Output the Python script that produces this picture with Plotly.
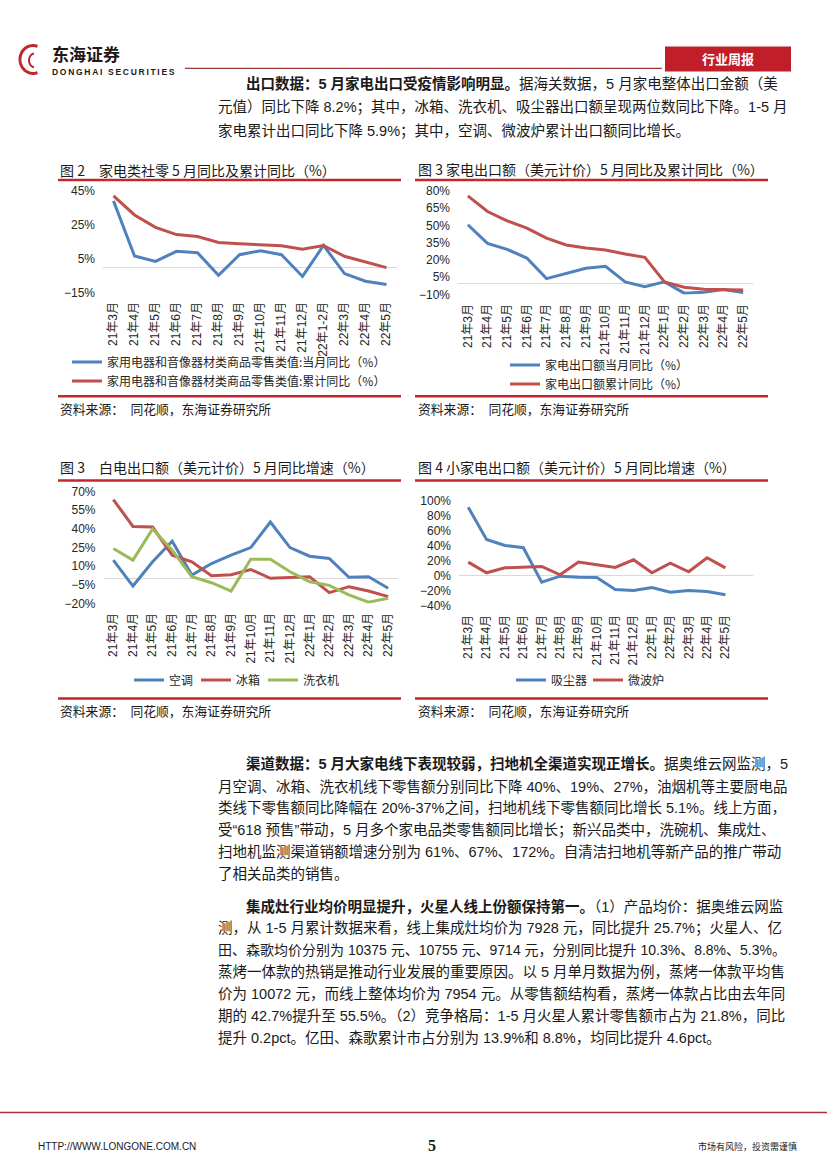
import plotly.graph_objects as go
import numpy as np
import math

W, H = 827, 1170

# ---------------- data ----------------
months_a = ["21年3月", "21年4月", "21年5月", "21年6月", "21年7月", "21年8月", "21年9月",
            "21年10月", "21年11月", "21年12月", "22年1-2月", "22年3月", "22年4月", "22年5月"]
retail_month = [39.1, 6.6, 3.4, 9.3, 8.5, -4.8, 7.3, 9.7, 7.3, -5.5, 12.8, -3.8, -8.3, -10.2]
retail_cum = [42.1, 30.8, 23.5, 19.2, 18.1, 14.6, 13.8, 13.2, 12.6, 10.5, 12.8, 6.4, 3.0, -0.3]

months_b = ["21年3月", "21年4月", "21年5月", "21年6月", "21年7月", "21年8月", "21年9月",
            "21年10月", "21年11月", "21年12月", "22年1月", "22年2月", "22年3月", "22年4月", "22年5月"]
export_month = [50.6, 34.4, 29.2, 21.7, 3.8, 8.5, 12.8, 14.5, 1.0, -3.1, 1.0, -8.8, -8.0, -5.7, -8.3]
export_cum = [75.7, 62.1, 54.0, 47.7, 39.0, 33.0, 30.4, 28.7, 25.2, 22.3, 1.0, -3.7, -5.4, -5.4, -6.0]

ac_export = [14.8, -6.0, 13.5, 30.0, 2.8, 12.1, 18.8, 24.9, 45.4, 24.9, 18.0, 16.1, 1.0, 1.5, -7.8]
fridge_export = [63.5, 41.9, 41.4, 18.8, 13.5, 2.3, 3.1, 7.3, 0.2, 0.7, 1.5, -11.3, -6.5, -10.0, -14.5]
washer_export = [24.1, 14.8, 39.8, 22.8, 1.5, -3.3, -10.0, 15.6, 15.6, 5.5, -2.5, -5.4, -13.1, -19.0, -15.8]

vacuum_export = [91.0, 48.0, 40.0, 37.0, -8.9, -0.9, -2.2, -2.7, -18.7, -20.0, -16.0, -22.2, -20.0, -21.3, -25.8]
microwave_export = [17.8, 3.6, 10.2, 10.7, 12.0, 0.9, 17.8, 14.2, 10.7, 20.9, 3.6, 16.4, 4.9, 23.6, 10.2]

name_retail_month = "家用电器和音像器材类商品零售类值:当月同比（%）"
name_retail_cum = "家用电器和音像器材类商品零售类值:累计同比（%）"
name_export_month = "家电出口额当月同比（%）"
name_export_cum = "家电出口额累计同比（%）"
name_ac, name_fridge, name_washer = "空调", "冰箱", "洗衣机"
name_vacuum, name_microwave = "吸尘器", "微波炉"

# ---------------- style ----------------
BLUE = "#4F81BD"
RED = "#C0504D"
GREEN = "#9BBB59"
DARKRED = "#C0282D"
CJK = "Noto Sans CJK SC, sans-serif"
BODY = "Liberation Sans, Noto Sans CJK SC, sans-serif"
TICK = "Liberation Sans Narrow, Liberation Sans, Noto Sans CJK SC, sans-serif"
TXT = "#1a1a1a"

# vertical layout calibration (page position -> placement)
_CAL_Y = [0, 60, 180, 400, 470, 700, 760, 900, 1040, 1113, 1145, 1170]
_CAL_D = [-6, -6, -4, -2, -1, 2, 3, 3, 4, 6, 8, 8]


def fx(x):
    return x / W


def fy(y):
    y2 = y + float(np.interp(y, _CAL_Y, _CAL_D))
    return 1 - y2 / H


fig = go.Figure()

LW = 3
fig.add_trace(go.Scatter(x=months_a, y=retail_month, name=name_retail_month, mode="lines",
                         line=dict(color=BLUE, width=LW), xaxis="x", yaxis="y", legend="legend"))
fig.add_trace(go.Scatter(x=months_a, y=retail_cum, name=name_retail_cum, mode="lines",
                         line=dict(color=RED, width=LW), xaxis="x", yaxis="y", legend="legend"))

fig.add_trace(go.Scatter(x=months_b, y=export_month, name=name_export_month, mode="lines",
                         line=dict(color=BLUE, width=LW), xaxis="x2", yaxis="y2", legend="legend2"))
fig.add_trace(go.Scatter(x=months_b, y=export_cum, name=name_export_cum, mode="lines",
                         line=dict(color=RED, width=LW), xaxis="x2", yaxis="y2", legend="legend2"))

fig.add_trace(go.Scatter(x=months_b, y=ac_export, name=name_ac, mode="lines",
                         line=dict(color=BLUE, width=LW), xaxis="x3", yaxis="y3", legend="legend3"))
fig.add_trace(go.Scatter(x=months_b, y=fridge_export, name=name_fridge, mode="lines",
                         line=dict(color=RED, width=LW), xaxis="x3", yaxis="y3", legend="legend3"))
fig.add_trace(go.Scatter(x=months_b, y=washer_export, name=name_washer, mode="lines", legendwidth=45,
                         line=dict(color=GREEN, width=LW), xaxis="x3", yaxis="y3", legend="legend3"))

fig.add_trace(go.Scatter(x=months_b, y=vacuum_export, name=name_vacuum, mode="lines",
                         line=dict(color=BLUE, width=LW), xaxis="x4", yaxis="y4", legend="legend4"))
fig.add_trace(go.Scatter(x=months_b, y=microwave_export, name=name_microwave, mode="lines", legendwidth=45,
                         line=dict(color=RED, width=LW), xaxis="x4", yaxis="y4", legend="legend4"))


def xaxis(x0, x1, anchor, rng):
    return dict(domain=[fx(x0), fx(x1)], anchor=anchor, type="category", range=rng,
                showgrid=False, zeroline=False, showline=False, ticks="",
                tickangle=-90, tickfont=dict(size=12, family=TICK, color="#262626"),
                ticklabelstandoff=6, fixedrange=True)


def yaxis(y_top, y_bot, anchor, rng, t0, dt):
    return dict(domain=[fy(y_bot), fy(y_top)], anchor=anchor, range=rng, tick0=t0, dtick=dt,
                ticksuffix="%", showgrid=False, zeroline=True, zerolinecolor="#D9D9D9",
                zerolinewidth=1, showline=False, ticks="",
                tickfont=dict(size=12, family=TICK, color="#262626"),
                ticklabelstandoff=7, fixedrange=True)


def legend(x, y, horizontal=False, entrywidth=None):
    d = dict(x=fx(x), y=fy(y), xanchor="left", yanchor="top", bgcolor="rgba(0,0,0,0)",
             font=dict(size=12, family=CJK, color="#262626"), tracegroupgap=0,
             orientation="h" if horizontal else "v", itemclick=False, itemdoubleclick=False)
    if entrywidth is not None:
        d["entrywidth"] = entrywidth
    return d


# ---------------- annotations ----------------
ann = []


def text(x, y, s, size=14.5, color=TXT, family=BODY, xanchor="left"):
    ann.append(dict(x=fx(x), y=fy(y), xref="paper", yref="paper", text=s, showarrow=False,
                    xanchor=xanchor, yanchor="middle", borderpad=0, borderwidth=0,
                    font=dict(size=size, color=color, family=family)))


shapes = []


def hline(x0, x1, y, color, width):
    shapes.append(dict(type="line", xref="paper", yref="paper", x0=fx(x0), x1=fx(x1),
                       y0=fy(y), y1=fy(y), line=dict(color=color, width=width)))


# header
text(52, 53.5, "<b>东海证券</b>", size=17, color="#231815", family=CJK)
text(52, 72, "<b>D\u2009O\u2009N\u2009G\u2009H\u2009A\u2009I\u2009 \u2009S\u2009E\u2009C\u2009U\u2009R\u2009I\u2009T\u2009I\u2009E\u2009S</b>",
     size=8.5, color="#231815", family="Liberation Sans")
hline(185, 662, 68, "#9B3A3A", 1.3)
shapes.append(dict(type="rect", xref="paper", yref="paper", x0=fx(665), x1=fx(791),
                   y0=fy(71), y1=fy(46), fillcolor="#C01F2A", line=dict(width=0)))
text(728, 58.5, "<b>行业周报</b>", size=13, color="white", family=CJK, xanchor="center")

# logo (stylised red ring)
pts = []
for k in range(0, 41):
    a = math.radians(70 + k * 220 / 40)
    pts.append((33 + 13 * math.cos(a), 59 - 14 * math.sin(a)))
path = "M " + " L ".join(f"{fx(p[0]):.5f},{fy(p[1]):.5f}" for p in pts)
shapes.append(dict(type="path", xref="paper", yref="paper", path=path,
                   line=dict(color=DARKRED, width=3)))
pts2 = []
for k in range(0, 21):
    a = math.radians(100 + k * 160 / 20)
    pts2.append((35 + 6 * math.cos(a), 60 - 7 * math.sin(a)))
path2 = "M " + " L ".join(f"{fx(p[0]):.5f},{fy(p[1]):.5f}" for p in pts2)
shapes.append(dict(type="path", xref="paper", yref="paper", path=path2,
                   line=dict(color=DARKRED, width=2)))

# paragraph 1
text(246, 83, "<b>出口数据：5 月家电出口受疫情影响明显。</b>据海关数据，5 月家电整体出口金额（美")
text(218, 107, "元值）同比下降 8.2%；其中，冰箱、洗衣机、吸尘器出口额呈现两位数同比下降。1-5 月")
text(218, 131, "家电累计出口同比下降 5.9%；其中，空调、微波炉累计出口额同比增长。")

# chart titles / rules / sources
TITLE = 14
text(60, 169, "图 2　家电类社零 5 月同比及累计同比（%）", size=TITLE, family=CJK)
text(418, 168, "图 3 家电出口额（美元计价）5 月同比及累计同比（%）", size=TITLE, family=CJK)
text(60, 467, "图 3　白电出口额（美元计价）5 月同比增速（%）", size=TITLE, family=CJK)
text(418, 467, "图 4 小家电出口额（美元计价）5 月同比增速（%）", size=TITLE, family=CJK)
for (x0, x1) in [(58, 401), (415, 768)]:
    hline(x0, x1, 179, DARKRED, 2.5)
    hline(x0, x1, 396, DARKRED, 2.5)
    hline(x0, x1, 480, DARKRED, 2.5)
    hline(x0, x1, 698, DARKRED, 2.5)
SRC = "资料来源：　同花顺，东海证券研究所"
for (x, y) in [(60, 408), (418, 408), (60, 710), (418, 710)]:
    text(x, y, SRC, size=12.8, family=CJK)

# paragraph 2
text(246, 763, "<b>渠道数据：5 月大家电线下表现较弱，扫地机全渠道实现正增长。</b>据奥维云网监测，5")
text(218, 786, "月空调、冰箱、洗衣机线下零售额分别同比下降 40%、19%、27%，油烟机等主要厨电品")
text(218, 808, "类线下零售额同比降幅在 20%-37%之间，扫地机线下零售额同比增长 5.1%。线上方面，")
text(218, 830, "受“618 预售”带动，5 月多个家电品类零售额同比增长；新兴品类中，洗碗机、集成灶、")
text(218, 852, "扫地机监测渠道销额增速分别为 61%、67%、172%。自清洁扫地机等新产品的推广带动")
text(218, 874, "了相关品类的销售。")

# paragraph 3
text(246, 907, "<b>集成灶行业均价明显提升，火星人线上份额保持第一。</b>（1）产品均价：据奥维云网监")
text(218, 929, "测，从 1-5 月累计数据来看，线上集成灶均价为 7928 元，同比提升 25.7%；火星人、亿")
text(218, 951, "田、森歌均价分别为 10375 元、10755 元、9714 元，分别同比提升 10.3%、8.8%、5.3%。", size=14)
text(218, 973, "蒸烤一体款的热销是推动行业发展的重要原因。以 5 月单月数据为例，蒸烤一体款平均售")
text(218, 995, "价为 10072 元，而线上整体均价为 7954 元。从零售额结构看，蒸烤一体款占比由去年同")
text(218, 1017, "期的 42.7%提升至 55.5%。（2）竞争格局：1-5 月火星人累计零售额市占为 21.8%，同比")
text(218, 1039, "提升 0.2pct。亿田、森歌累计市占分别为 13.9%和 8.8%，均同比提升 4.6pct。")

# footer
hline(0, 827, 1113, "#A8343A", 1.5)
text(38, 1145, "HTTP://WWW.LONGONE.COM.CN", size=10, family="Liberation Sans Narrow, Liberation Sans")
text(432, 1144, "<b>5</b>", size=16, family="Liberation Serif", xanchor="center")
text(797, 1145, "市场有风险，投资需谨慎", size=9, family=CJK, xanchor="right")

fig.update_layout(
    width=W, height=H, autosize=False,
    margin=dict(l=0, r=0, t=0, b=0),
    paper_bgcolor="white", plot_bgcolor="rgba(0,0,0,0)",
    showlegend=True,
    xaxis=xaxis(103, 397, "y", [-0.5, 13.5]),
    yaxis=yaxis(190, 292, "x", [-15.01, 45.01], -15, 20),
    xaxis2=xaxis(458, 753, "y2", [-0.5, 14.5]),
    yaxis2=yaxis(190, 294, "x2", [-10.01, 80.01], -10, 15),
    xaxis3=xaxis(103.5, 398, "y3", [-0.5, 14.5]),
    yaxis3=yaxis(491, 603, "x3", [-20.01, 70.01], -20, 15),
    xaxis4=xaxis(459, 753, "y4", [-0.5, 15.5]),
    yaxis4=yaxis(500, 605, "x4", [-40.01, 100.01], -40, 20),
    legend=legend(67, 347),
    legend2=legend(505, 350),
    legend3=legend(129, 665, horizontal=True, entrywidth=22),
    legend4=legend(511, 665, horizontal=True, entrywidth=32),
    annotations=ann,
    shapes=shapes,
    font=dict(family=CJK),
)

fig.write_html("out.html", config={"displayModeBar": False},
               post_script="document.body.style.margin='0';document.body.style.overflow='hidden';")
